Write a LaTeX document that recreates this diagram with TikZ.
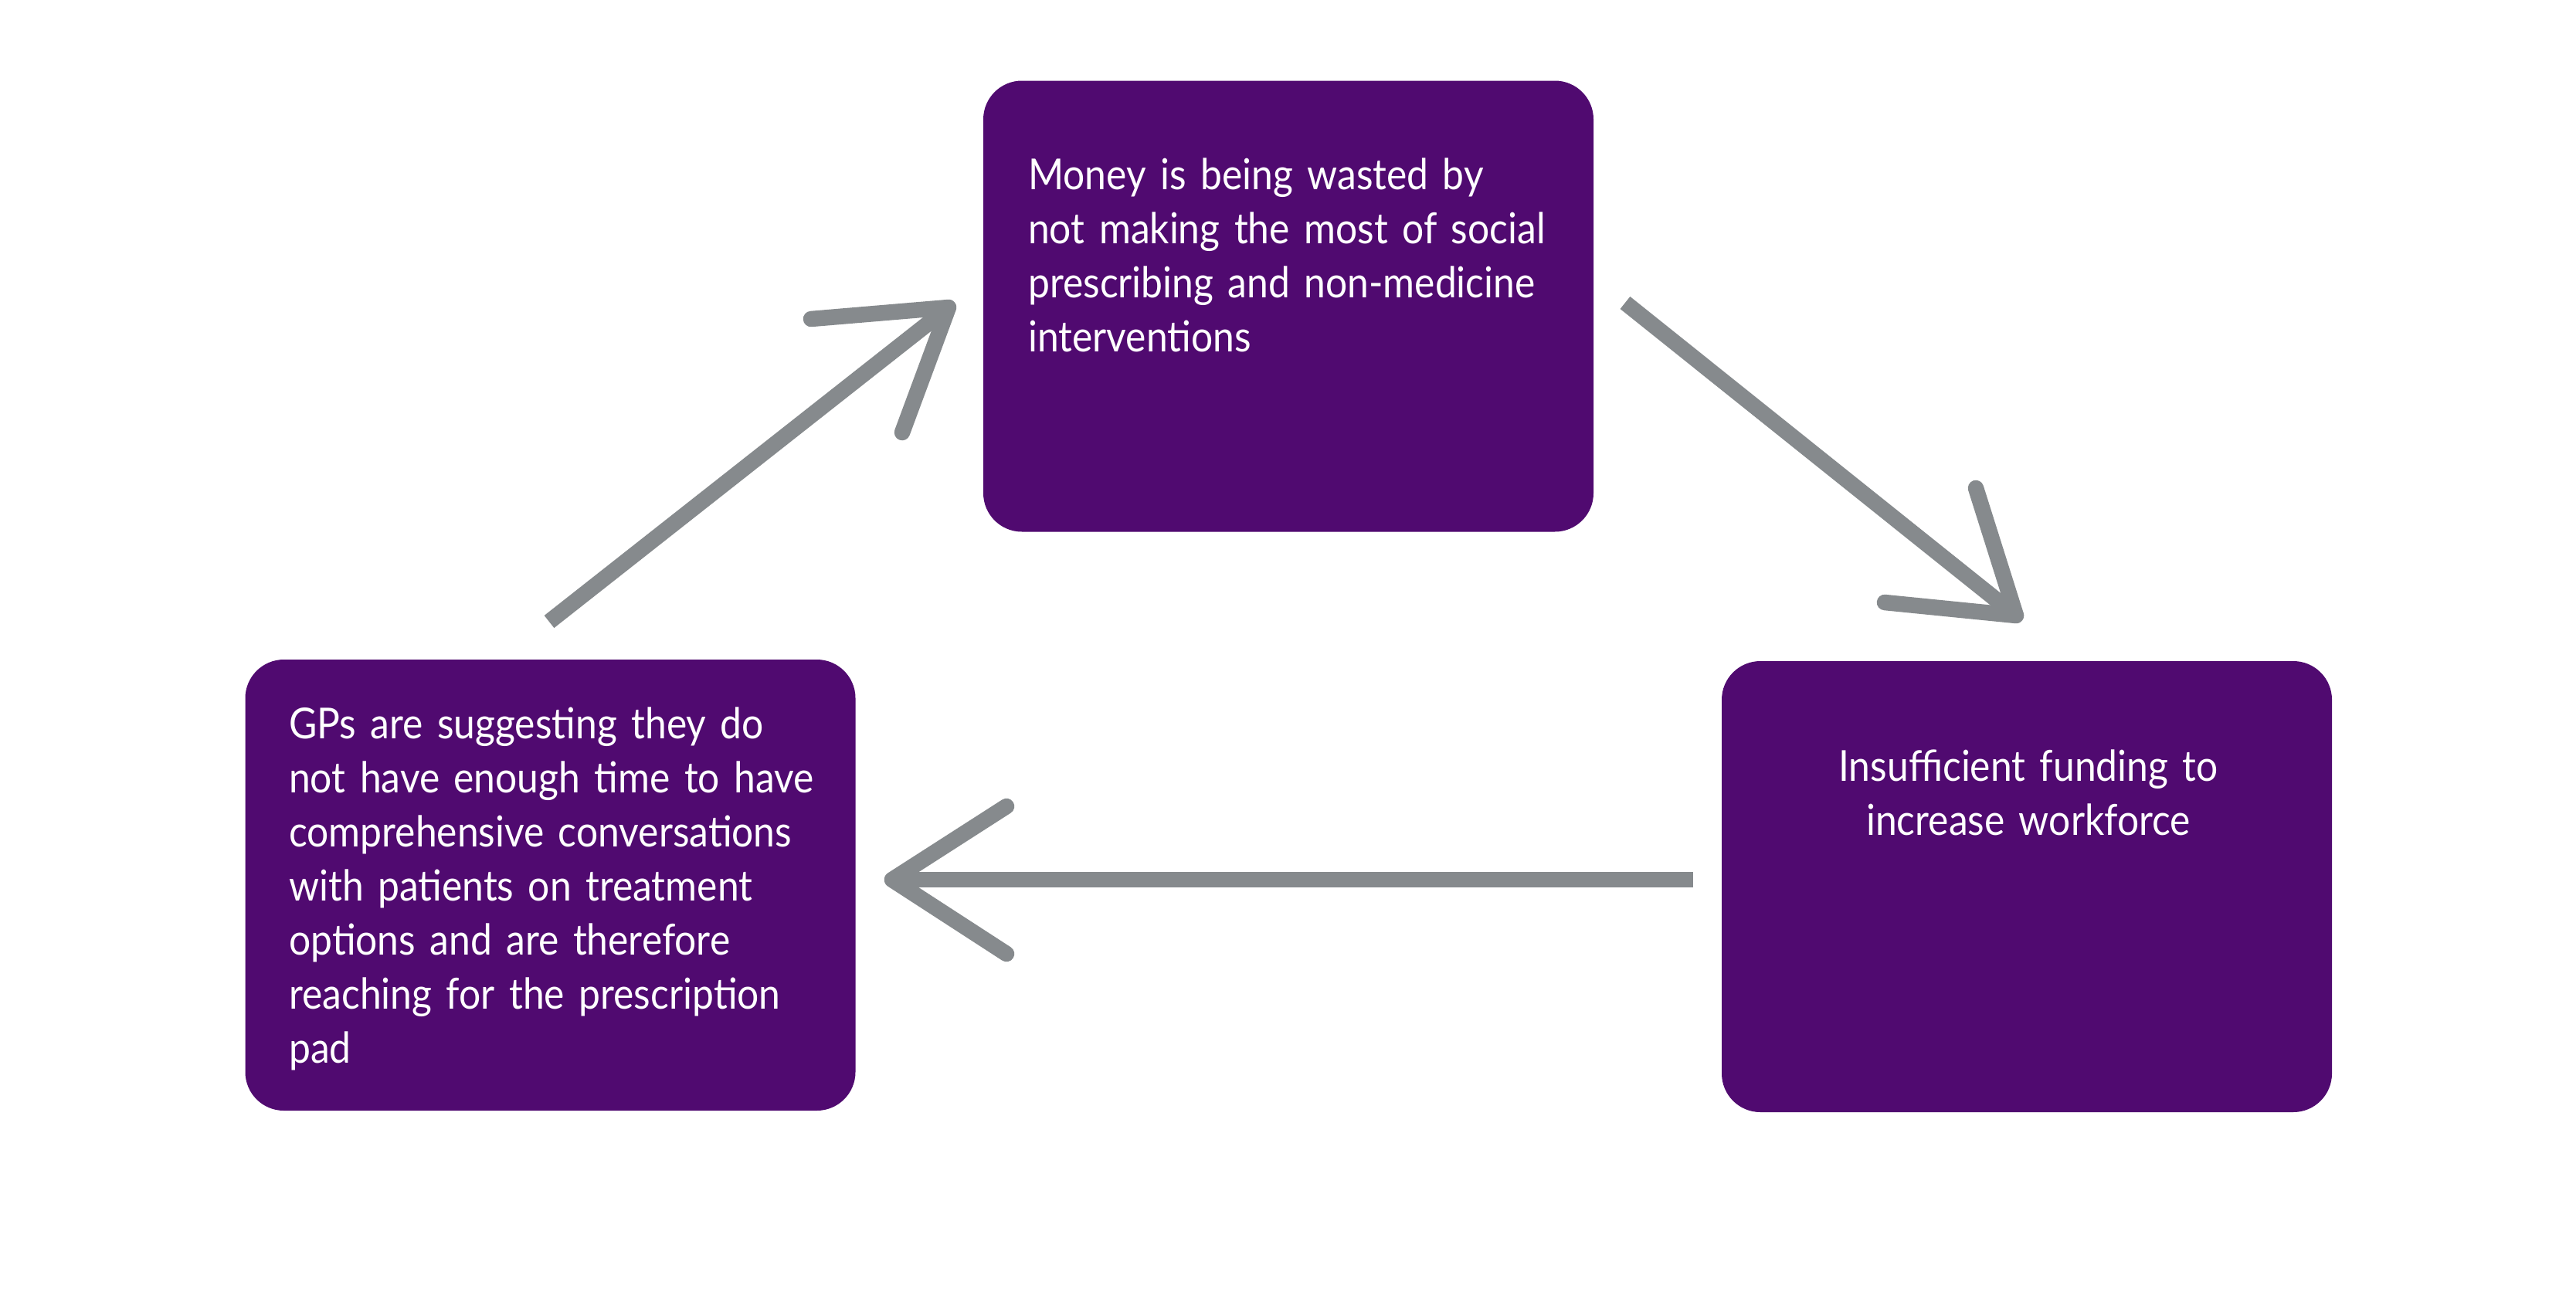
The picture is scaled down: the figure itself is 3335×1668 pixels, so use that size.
\documentclass[tikz,border=0pt]{standalone}
\usepackage{fontspec}
\setmainfont[FakeStretch=0.9,WordSpace=0.85]{Lato}
\definecolor{boxpurple}{RGB}{80,10,112}
\definecolor{arrowgray}{RGB}{134,138,141}
\begin{document}
\begin{tikzpicture}[x=1pt,y=-1pt,
  card/.style={fill=boxpurple, draw=none, rounded corners=50pt,
    minimum width=790pt, minimum height=584pt, inner sep=0pt},
  cardtext/.style={text=white, inner sep=0pt, font=\fontsize{55.3pt}{70pt}\selectfont},
  shaft/.style={draw=arrowgray, line width=20.5pt, line cap=butt},
  head/.style={draw=arrowgray, line width=20.5pt, line cap=round, line join=round}]
\useasboundingbox (0,0) rectangle (3335,1668);
\fill[white] (0,0) rectangle (3335,1668);

% boxes
\node[card] (topbox) at (1668,396.5) {};
\node[card] (leftbox) at (712.5,1146) {};
\node[card] (rightbox) at (2624,1148) {};

% texts
\node[cardtext, anchor=base west, text width=1000pt, align=left] (toptext) at (1331,245)
  {Money is being wasted by\\not making the most of social\\prescribing and non-medicine\\interventions};
\node[cardtext, anchor=base west, text width=1000pt, align=left] (lefttext) at (374,956)
  {GPs are suggesting they do\\not have enough time to have\\comprehensive conversations\\with patients on treatment\\options and are therefore\\reaching for the prescription\\pad};
\node[cardtext, anchor=base, text width=760pt, align=center] (righttext) at (2626,1011)
  {Insufficient funding to\\increase workforce};

% arrow 1: left box -> top box
\coordinate (a1tail) at (711,805);
\coordinate (a1tip) at (1228,398);
\coordinate (a1armA) at (1050,413);
\coordinate (a1armB) at (1168,560);
\draw[shaft] (a1tail) -- (a1tip);
\draw[head] (a1armA) -- (a1tip) -- (a1armB);

% arrow 2: top box -> right box
\coordinate (a2tail) at (2104,392);
\coordinate (a2tip) at (2610,797);
\coordinate (a2armA) at (2440,780);
\coordinate (a2armB) at (2558,632);
\draw[shaft] (a2tail) -- (a2tip);
\draw[head] (a2armA) -- (a2tip) -- (a2armB);

% arrow 3: right box -> left box
\coordinate (a3tail) at (2192,1139);
\coordinate (a3tip) at (1155,1139);
\coordinate (a3armA) at (1303,1044);
\coordinate (a3armB) at (1303,1235);
\draw[shaft] (a3tail) -- (a3tip);
\draw[head] (a3armA) -- (a3tip) -- (a3armB);
\end{tikzpicture}
\end{document}
